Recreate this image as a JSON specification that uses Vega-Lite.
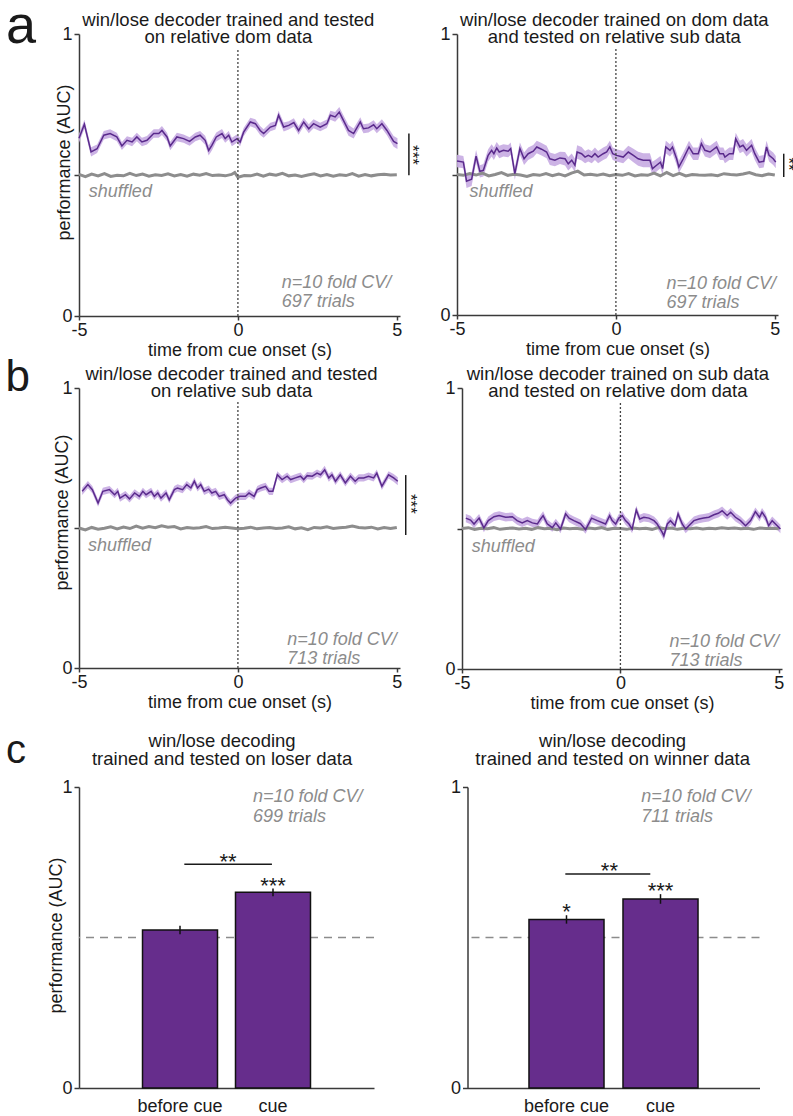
{
  "$schema": "https://vega.github.io/schema/vega-lite/v6.json",
  "padding": {"left": 5, "top": 0, "right": 0, "bottom": 0},
  "background": "white",
  "config": {
    "font": "Liberation Sans",
    "view": {"stroke": null},
    "axis": {"grid": false, "domainColor": "#3a3a3a", "domainWidth": 1.5, "tickColor": "#3a3a3a", "tickWidth": 1.5, "labelFont": "Liberation Sans", "labelFontSize": 18, "labelColor": "#1a1a1a", "titleFont": "Liberation Sans", "titleFontSize": 18, "titleFontWeight": "normal", "titleColor": "#1a1a1a"}
  },
  "datasets": {
    "aLp": [{"t":-5.0,"v":0.630,"e":0.016},{"t":-4.83,"v":0.680,"e":0.016},{"t":-4.62,"v":0.582,"e":0.016},{"t":-4.43,"v":0.593,"e":0.015},{"t":-4.22,"v":0.641,"e":0.015},{"t":-4.02,"v":0.647,"e":0.015},{"t":-3.81,"v":0.635,"e":0.015},{"t":-3.65,"v":0.603,"e":0.014},{"t":-3.49,"v":0.623,"e":0.014},{"t":-3.33,"v":0.617,"e":0.015},{"t":-3.18,"v":0.635,"e":0.015},{"t":-3.02,"v":0.617,"e":0.015},{"t":-2.86,"v":0.623,"e":0.015},{"t":-2.65,"v":0.647,"e":0.015},{"t":-2.49,"v":0.647,"e":0.015},{"t":-2.39,"v":0.658,"e":0.016},{"t":-2.23,"v":0.635,"e":0.015},{"t":-2.13,"v":0.603,"e":0.015},{"t":-1.92,"v":0.635,"e":0.015},{"t":-1.71,"v":0.629,"e":0.015},{"t":-1.52,"v":0.619,"e":0.015},{"t":-1.34,"v":0.635,"e":0.015},{"t":-1.19,"v":0.641,"e":0.015},{"t":-1.03,"v":0.623,"e":0.016},{"t":-0.92,"v":0.587,"e":0.018},{"t":-0.82,"v":0.605,"e":0.018},{"t":-0.68,"v":0.635,"e":0.016},{"t":-0.5,"v":0.647,"e":0.016},{"t":-0.4,"v":0.629,"e":0.015},{"t":-0.29,"v":0.641,"e":0.015},{"t":-0.19,"v":0.617,"e":0.015},{"t":-0.03,"v":0.629,"e":0.015},{"t":0.07,"v":0.617,"e":0.015},{"t":0.18,"v":0.652,"e":0.015},{"t":0.39,"v":0.688,"e":0.015},{"t":0.55,"v":0.682,"e":0.016},{"t":0.7,"v":0.658,"e":0.016},{"t":0.81,"v":0.647,"e":0.015},{"t":1.02,"v":0.670,"e":0.015},{"t":1.18,"v":0.676,"e":0.015},{"t":1.28,"v":0.712,"e":0.016},{"t":1.44,"v":0.670,"e":0.016},{"t":1.6,"v":0.676,"e":0.015},{"t":1.76,"v":0.686,"e":0.015},{"t":1.91,"v":0.658,"e":0.015},{"t":2.07,"v":0.688,"e":0.015},{"t":2.23,"v":0.664,"e":0.016},{"t":2.38,"v":0.682,"e":0.016},{"t":2.59,"v":0.670,"e":0.015},{"t":2.8,"v":0.682,"e":0.015},{"t":2.91,"v":0.712,"e":0.016},{"t":3.06,"v":0.706,"e":0.017},{"t":3.19,"v":0.723,"e":0.018},{"t":3.32,"v":0.694,"e":0.018},{"t":3.48,"v":0.658,"e":0.019},{"t":3.64,"v":0.647,"e":0.018},{"t":3.85,"v":0.688,"e":0.017},{"t":3.95,"v":0.664,"e":0.016},{"t":4.11,"v":0.667,"e":0.016},{"t":4.27,"v":0.678,"e":0.016},{"t":4.37,"v":0.664,"e":0.016},{"t":4.53,"v":0.682,"e":0.016},{"t":4.69,"v":0.658,"e":0.017},{"t":4.9,"v":0.619,"e":0.019},{"t":5.02,"v":0.611,"e":0.019}],
    "aLS": [{"t":-5,"v":0.502},{"t":-4.8,"v":0.494},{"t":-4.6,"v":0.503},{"t":-4.4,"v":0.497},{"t":-4.2,"v":0.505},{"t":-4,"v":0.495},{"t":-3.8,"v":0.499},{"t":-3.6,"v":0.497},{"t":-3.4,"v":0.506},{"t":-3.2,"v":0.498},{"t":-3,"v":0.503},{"t":-2.8,"v":0.496},{"t":-2.6,"v":0.501},{"t":-2.4,"v":0.498},{"t":-2.2,"v":0.504},{"t":-2,"v":0.497},{"t":-1.8,"v":0.502},{"t":-1.6,"v":0.496},{"t":-1.4,"v":0.503},{"t":-1.2,"v":0.499},{"t":-1,"v":0.505},{"t":-0.8,"v":0.498},{"t":-0.6,"v":0.5},{"t":-0.4,"v":0.497},{"t":-0.2,"v":0.502},{"t":-0.1,"v":0.509},{"t":0,"v":0.492},{"t":0.2,"v":0.498},{"t":0.4,"v":0.497},{"t":0.6,"v":0.503},{"t":0.8,"v":0.496},{"t":1,"v":0.503},{"t":1.2,"v":0.499},{"t":1.4,"v":0.506},{"t":1.6,"v":0.497},{"t":1.8,"v":0.5},{"t":2,"v":0.495},{"t":2.2,"v":0.5},{"t":2.4,"v":0.504},{"t":2.6,"v":0.497},{"t":2.8,"v":0.502},{"t":3,"v":0.496},{"t":3.2,"v":0.501},{"t":3.4,"v":0.498},{"t":3.6,"v":0.505},{"t":3.8,"v":0.496},{"t":4,"v":0.502},{"t":4.2,"v":0.497},{"t":4.4,"v":0.501},{"t":4.6,"v":0.503},{"t":4.8,"v":0.5},{"t":5,"v":0.501}],
    "aRp": [{"t":-5.0,"v":0.548,"e":0.022},{"t":-4.8,"v":0.544,"e":0.022},{"t":-4.7,"v":0.476,"e":0.024},{"t":-4.54,"v":0.483,"e":0.024},{"t":-4.4,"v":0.565,"e":0.022},{"t":-4.28,"v":0.511,"e":0.022},{"t":-4.17,"v":0.515,"e":0.022},{"t":-4.02,"v":0.568,"e":0.022},{"t":-3.91,"v":0.586,"e":0.022},{"t":-3.84,"v":0.574,"e":0.022},{"t":-3.75,"v":0.594,"e":0.022},{"t":-3.67,"v":0.58,"e":0.022},{"t":-3.54,"v":0.586,"e":0.022},{"t":-3.39,"v":0.583,"e":0.022},{"t":-3.31,"v":0.592,"e":0.022},{"t":-3.18,"v":0.503,"e":0.022},{"t":-3.02,"v":0.592,"e":0.022},{"t":-2.89,"v":0.556,"e":0.022},{"t":-2.76,"v":0.574,"e":0.022},{"t":-2.6,"v":0.583,"e":0.022},{"t":-2.49,"v":0.598,"e":0.022},{"t":-2.34,"v":0.59,"e":0.022},{"t":-2.18,"v":0.58,"e":0.022},{"t":-2.08,"v":0.556,"e":0.022},{"t":-1.92,"v":0.551,"e":0.022},{"t":-1.76,"v":0.559,"e":0.022},{"t":-1.6,"v":0.556,"e":0.024},{"t":-1.5,"v":0.538,"e":0.024},{"t":-1.39,"v":0.551,"e":0.024},{"t":-1.29,"v":0.533,"e":0.024},{"t":-1.22,"v":0.58,"e":0.024},{"t":-1.08,"v":0.574,"e":0.024},{"t":-0.97,"v":0.562,"e":0.022},{"t":-0.87,"v":0.568,"e":0.022},{"t":-0.76,"v":0.562,"e":0.022},{"t":-0.66,"v":0.574,"e":0.022},{"t":-0.56,"v":0.562,"e":0.022},{"t":-0.4,"v":0.574,"e":0.022},{"t":-0.29,"v":0.58,"e":0.022},{"t":-0.19,"v":0.598,"e":0.022},{"t":-0.1,"v":0.574,"e":0.022},{"t":0.02,"v":0.568,"e":0.022},{"t":0.23,"v":0.562,"e":0.022},{"t":0.39,"v":0.58,"e":0.022},{"t":0.55,"v":0.568,"e":0.024},{"t":0.7,"v":0.556,"e":0.025},{"t":0.86,"v":0.551,"e":0.025},{"t":1.07,"v":0.551,"e":0.025},{"t":1.15,"v":0.521,"e":0.024},{"t":1.28,"v":0.533,"e":0.022},{"t":1.4,"v":0.544,"e":0.022},{"t":1.47,"v":0.521,"e":0.022},{"t":1.57,"v":0.598,"e":0.022},{"t":1.7,"v":0.586,"e":0.022},{"t":1.78,"v":0.598,"e":0.022},{"t":1.91,"v":0.556,"e":0.022},{"t":1.98,"v":0.527,"e":0.022},{"t":2.12,"v":0.556,"e":0.022},{"t":2.3,"v":0.598,"e":0.022},{"t":2.43,"v":0.574,"e":0.022},{"t":2.59,"v":0.574,"e":0.022},{"t":2.69,"v":0.61,"e":0.022},{"t":2.8,"v":0.586,"e":0.022},{"t":2.96,"v":0.58,"e":0.022},{"t":3.17,"v":0.598,"e":0.022},{"t":3.27,"v":0.574,"e":0.022},{"t":3.38,"v":0.574,"e":0.022},{"t":3.43,"v":0.562,"e":0.022},{"t":3.57,"v":0.574,"e":0.022},{"t":3.69,"v":0.574,"e":0.022},{"t":3.77,"v":0.627,"e":0.022},{"t":3.9,"v":0.598,"e":0.022},{"t":4.0,"v":0.604,"e":0.022},{"t":4.11,"v":0.586,"e":0.022},{"t":4.27,"v":0.604,"e":0.022},{"t":4.37,"v":0.574,"e":0.022},{"t":4.51,"v":0.544,"e":0.022},{"t":4.65,"v":0.547,"e":0.022},{"t":4.74,"v":0.598,"e":0.022},{"t":4.82,"v":0.568,"e":0.022},{"t":4.95,"v":0.556,"e":0.022},{"t":5.03,"v":0.544,"e":0.022}],
    "aRS": [{"t":-5,"v":0.5},{"t":-4.8,"v":0.497},{"t":-4.6,"v":0.503},{"t":-4.4,"v":0.498},{"t":-4.2,"v":0.505},{"t":-4,"v":0.495},{"t":-3.8,"v":0.5},{"t":-3.6,"v":0.507},{"t":-3.4,"v":0.497},{"t":-3.2,"v":0.501},{"t":-3,"v":0.498},{"t":-2.8,"v":0.493},{"t":-2.6,"v":0.5},{"t":-2.4,"v":0.497},{"t":-2.2,"v":0.503},{"t":-2,"v":0.496},{"t":-1.8,"v":0.502},{"t":-1.6,"v":0.495},{"t":-1.4,"v":0.505},{"t":-1.2,"v":0.512},{"t":-1,"v":0.498},{"t":-0.8,"v":0.501},{"t":-0.6,"v":0.497},{"t":-0.4,"v":0.502},{"t":-0.2,"v":0.496},{"t":0,"v":0.5},{"t":0.2,"v":0.497},{"t":0.4,"v":0.503},{"t":0.6,"v":0.495},{"t":0.8,"v":0.499},{"t":1,"v":0.497},{"t":1.2,"v":0.505},{"t":1.4,"v":0.495},{"t":1.6,"v":0.507},{"t":1.8,"v":0.496},{"t":2,"v":0.504},{"t":2.2,"v":0.495},{"t":2.4,"v":0.5},{"t":2.6,"v":0.498},{"t":2.8,"v":0.497},{"t":3,"v":0.499},{"t":3.2,"v":0.496},{"t":3.4,"v":0.503},{"t":3.6,"v":0.5},{"t":3.8,"v":0.498},{"t":4,"v":0.502},{"t":4.2,"v":0.507},{"t":4.4,"v":0.499},{"t":4.6,"v":0.496},{"t":4.8,"v":0.502},{"t":5,"v":0.498}],
    "bLp": [{"t":-4.9,"v":0.631,"e":0.013},{"t":-4.72,"v":0.655,"e":0.013},{"t":-4.58,"v":0.637,"e":0.013},{"t":-4.4,"v":0.589,"e":0.013},{"t":-4.25,"v":0.631,"e":0.013},{"t":-4.04,"v":0.637,"e":0.013},{"t":-3.88,"v":0.619,"e":0.013},{"t":-3.78,"v":0.631,"e":0.013},{"t":-3.71,"v":0.607,"e":0.013},{"t":-3.54,"v":0.619,"e":0.013},{"t":-3.41,"v":0.604,"e":0.013},{"t":-3.25,"v":0.625,"e":0.013},{"t":-3.1,"v":0.613,"e":0.013},{"t":-2.99,"v":0.631,"e":0.013},{"t":-2.89,"v":0.619,"e":0.013},{"t":-2.73,"v":0.631,"e":0.013},{"t":-2.63,"v":0.613,"e":0.013},{"t":-2.52,"v":0.625,"e":0.013},{"t":-2.42,"v":0.607,"e":0.013},{"t":-2.26,"v":0.625,"e":0.013},{"t":-2.16,"v":0.601,"e":0.013},{"t":-2.0,"v":0.637,"e":0.013},{"t":-1.9,"v":0.643,"e":0.013},{"t":-1.74,"v":0.637,"e":0.013},{"t":-1.61,"v":0.655,"e":0.013},{"t":-1.48,"v":0.643,"e":0.013},{"t":-1.37,"v":0.667,"e":0.013},{"t":-1.27,"v":0.643,"e":0.013},{"t":-1.17,"v":0.655,"e":0.013},{"t":-1.06,"v":0.631,"e":0.013},{"t":-0.92,"v":0.639,"e":0.013},{"t":-0.82,"v":0.625,"e":0.013},{"t":-0.7,"v":0.631,"e":0.013},{"t":-0.59,"v":0.613,"e":0.013},{"t":-0.43,"v":0.619,"e":0.013},{"t":-0.33,"v":0.601,"e":0.013},{"t":-0.23,"v":0.589,"e":0.013},{"t":-0.07,"v":0.607,"e":0.013},{"t":0.06,"v":0.613,"e":0.013},{"t":0.24,"v":0.613,"e":0.013},{"t":0.35,"v":0.625,"e":0.013},{"t":0.51,"v":0.613,"e":0.013},{"t":0.61,"v":0.637,"e":0.013},{"t":0.72,"v":0.643,"e":0.013},{"t":0.87,"v":0.649,"e":0.013},{"t":0.98,"v":0.631,"e":0.013},{"t":1.1,"v":0.631,"e":0.013},{"t":1.24,"v":0.69,"e":0.013},{"t":1.39,"v":0.673,"e":0.013},{"t":1.55,"v":0.685,"e":0.013},{"t":1.66,"v":0.673,"e":0.013},{"t":1.81,"v":0.679,"e":0.013},{"t":1.97,"v":0.685,"e":0.013},{"t":2.07,"v":0.673,"e":0.013},{"t":2.18,"v":0.687,"e":0.013},{"t":2.34,"v":0.685,"e":0.013},{"t":2.49,"v":0.696,"e":0.013},{"t":2.6,"v":0.69,"e":0.013},{"t":2.73,"v":0.708,"e":0.014},{"t":2.86,"v":0.679,"e":0.014},{"t":2.96,"v":0.69,"e":0.013},{"t":3.07,"v":0.667,"e":0.013},{"t":3.22,"v":0.69,"e":0.013},{"t":3.38,"v":0.661,"e":0.013},{"t":3.54,"v":0.685,"e":0.013},{"t":3.69,"v":0.667,"e":0.013},{"t":3.8,"v":0.679,"e":0.013},{"t":3.96,"v":0.679,"e":0.013},{"t":4.11,"v":0.685,"e":0.013},{"t":4.27,"v":0.679,"e":0.013},{"t":4.37,"v":0.696,"e":0.013},{"t":4.53,"v":0.649,"e":0.013},{"t":4.74,"v":0.69,"e":0.013},{"t":4.9,"v":0.679,"e":0.014},{"t":5.03,"v":0.667,"e":0.014}],
    "bLS": [{"t":-5,"v":0.5},{"t":-4.8,"v":0.493},{"t":-4.6,"v":0.502},{"t":-4.4,"v":0.496},{"t":-4.2,"v":0.499},{"t":-4,"v":0.504},{"t":-3.8,"v":0.497},{"t":-3.6,"v":0.503},{"t":-3.4,"v":0.498},{"t":-3.2,"v":0.507},{"t":-3,"v":0.499},{"t":-2.8,"v":0.505},{"t":-2.6,"v":0.501},{"t":-2.4,"v":0.508},{"t":-2.2,"v":0.503},{"t":-2,"v":0.505},{"t":-1.8,"v":0.497},{"t":-1.6,"v":0.502},{"t":-1.4,"v":0.499},{"t":-1.2,"v":0.501},{"t":-1,"v":0.505},{"t":-0.8,"v":0.498},{"t":-0.6,"v":0.5},{"t":-0.4,"v":0.503},{"t":-0.2,"v":0.5},{"t":0,"v":0.497},{"t":0.2,"v":0.499},{"t":0.4,"v":0.503},{"t":0.6,"v":0.497},{"t":0.8,"v":0.5},{"t":1,"v":0.502},{"t":1.2,"v":0.498},{"t":1.4,"v":0.5},{"t":1.6,"v":0.504},{"t":1.8,"v":0.497},{"t":2,"v":0.501},{"t":2.2,"v":0.494},{"t":2.4,"v":0.502},{"t":2.6,"v":0.5},{"t":2.8,"v":0.504},{"t":3,"v":0.498},{"t":3.2,"v":0.501},{"t":3.4,"v":0.503},{"t":3.6,"v":0.507},{"t":3.8,"v":0.502},{"t":4,"v":0.5},{"t":4.2,"v":0.503},{"t":4.4,"v":0.497},{"t":4.6,"v":0.502},{"t":4.8,"v":0.498},{"t":5,"v":0.502}],
    "bRp": [{"t":-4.88,"v":0.537,"e":0.015},{"t":-4.73,"v":0.53,"e":0.015},{"t":-4.62,"v":0.516,"e":0.015},{"t":-4.46,"v":0.537,"e":0.015},{"t":-4.31,"v":0.502,"e":0.015},{"t":-4.17,"v":0.528,"e":0.015},{"t":-3.99,"v":0.542,"e":0.015},{"t":-3.83,"v":0.546,"e":0.015},{"t":-3.62,"v":0.54,"e":0.015},{"t":-3.41,"v":0.542,"e":0.015},{"t":-3.26,"v":0.528,"e":0.015},{"t":-3.1,"v":0.52,"e":0.015},{"t":-2.94,"v":0.528,"e":0.015},{"t":-2.78,"v":0.52,"e":0.015},{"t":-2.62,"v":0.516,"e":0.015},{"t":-2.52,"v":0.534,"e":0.015},{"t":-2.44,"v":0.546,"e":0.015},{"t":-2.31,"v":0.517,"e":0.015},{"t":-2.15,"v":0.503,"e":0.015},{"t":-2.04,"v":0.52,"e":0.015},{"t":-1.89,"v":0.498,"e":0.015},{"t":-1.73,"v":0.552,"e":0.015},{"t":-1.62,"v":0.537,"e":0.015},{"t":-1.47,"v":0.528,"e":0.015},{"t":-1.26,"v":0.517,"e":0.015},{"t":-1.1,"v":0.496,"e":0.015},{"t":-0.91,"v":0.537,"e":0.015},{"t":-0.73,"v":0.528,"e":0.015},{"t":-0.47,"v":0.516,"e":0.015},{"t":-0.34,"v":0.546,"e":0.015},{"t":-0.26,"v":0.528,"e":0.015},{"t":-0.15,"v":0.516,"e":0.015},{"t":-0.05,"v":0.537,"e":0.015},{"t":0.06,"v":0.546,"e":0.015},{"t":0.16,"v":0.528,"e":0.015},{"t":0.27,"v":0.516,"e":0.015},{"t":0.37,"v":0.498,"e":0.015},{"t":0.5,"v":0.566,"e":0.015},{"t":0.61,"v":0.534,"e":0.015},{"t":0.74,"v":0.54,"e":0.015},{"t":0.9,"v":0.537,"e":0.015},{"t":1.06,"v":0.528,"e":0.015},{"t":1.16,"v":0.516,"e":0.015},{"t":1.32,"v":0.486,"e":0.016},{"t":1.37,"v":0.474,"e":0.016},{"t":1.48,"v":0.516,"e":0.015},{"t":1.58,"v":0.528,"e":0.015},{"t":1.72,"v":0.51,"e":0.015},{"t":1.82,"v":0.552,"e":0.015},{"t":1.95,"v":0.516,"e":0.015},{"t":2.06,"v":0.498,"e":0.015},{"t":2.16,"v":0.51,"e":0.015},{"t":2.32,"v":0.528,"e":0.015},{"t":2.48,"v":0.534,"e":0.015},{"t":2.63,"v":0.537,"e":0.015},{"t":2.79,"v":0.54,"e":0.015},{"t":2.95,"v":0.549,"e":0.015},{"t":3.09,"v":0.554,"e":0.015},{"t":3.21,"v":0.563,"e":0.015},{"t":3.37,"v":0.546,"e":0.015},{"t":3.48,"v":0.558,"e":0.015},{"t":3.63,"v":0.54,"e":0.015},{"t":3.79,"v":0.528,"e":0.015},{"t":3.95,"v":0.51,"e":0.015},{"t":4.11,"v":0.528,"e":0.015},{"t":4.26,"v":0.56,"e":0.015},{"t":4.39,"v":0.54,"e":0.015},{"t":4.47,"v":0.558,"e":0.015},{"t":4.58,"v":0.54,"e":0.015},{"t":4.68,"v":0.51,"e":0.015},{"t":4.79,"v":0.528,"e":0.015},{"t":4.95,"v":0.51,"e":0.015},{"t":5.05,"v":0.498,"e":0.015}],
    "bRS": [{"t":-5,"v":0.5},{"t":-4.8,"v":0.503},{"t":-4.6,"v":0.497},{"t":-4.4,"v":0.501},{"t":-4.2,"v":0.499},{"t":-4,"v":0.503},{"t":-3.8,"v":0.497},{"t":-3.6,"v":0.5},{"t":-3.4,"v":0.502},{"t":-3.2,"v":0.498},{"t":-3,"v":0.501},{"t":-2.8,"v":0.497},{"t":-2.6,"v":0.503},{"t":-2.4,"v":0.499},{"t":-2.2,"v":0.501},{"t":-2,"v":0.496},{"t":-1.8,"v":0.502},{"t":-1.6,"v":0.499},{"t":-1.4,"v":0.501},{"t":-1.2,"v":0.497},{"t":-1,"v":0.502},{"t":-0.8,"v":0.499},{"t":-0.6,"v":0.503},{"t":-0.4,"v":0.497},{"t":-0.2,"v":0.501},{"t":0,"v":0.5},{"t":0.2,"v":0.497},{"t":0.4,"v":0.502},{"t":0.6,"v":0.499},{"t":0.8,"v":0.501},{"t":1,"v":0.497},{"t":1.2,"v":0.503},{"t":1.4,"v":0.499},{"t":1.6,"v":0.502},{"t":1.8,"v":0.497},{"t":2,"v":0.501},{"t":2.2,"v":0.499},{"t":2.4,"v":0.502},{"t":2.6,"v":0.498},{"t":2.8,"v":0.501},{"t":3,"v":0.499},{"t":3.2,"v":0.503},{"t":3.4,"v":0.5},{"t":3.6,"v":0.502},{"t":3.8,"v":0.499},{"t":4,"v":0.501},{"t":4.2,"v":0.497},{"t":4.4,"v":0.502},{"t":4.6,"v":0.5},{"t":4.8,"v":0.501},{"t":5,"v":0.499}],
    "cL": [{"cond":"before cue","v":0.525,"e":0.014},{"cond":"cue","v":0.65,"e":0.013}],
    "cR": [{"cond":"before cue","v":0.56,"e":0.014},{"cond":"cue","v":0.628,"e":0.016}]
  },
  "spacing": 18,
  "vconcat": [
    {
      "spacing": -4,
      "vconcat": [
        {
          "title": {"text": "a", "orient": "left", "anchor": "end", "angle": 0, "align": "right", "baseline": "top", "fontSize": 54, "fontWeight": "normal", "font": "Liberation Sans", "color": "#1a1a1a", "offset": -10.5, "dy": -11},
          "spacing": 18,
          "hconcat": [
            {
              "width": 321, "height": 282,
              "layer": [
                {"data": {"name": "aLp"}, "mark": {"type": "errorband", "color": "#c6abe2", "opacity": 0.9},
                 "encoding": {
                   "x": {"field": "t", "type": "quantitative", "scale": {"domain": [-5, 5.1], "nice": false, "zero": false}, "axis": {"values": [-5, 0, 5], "labelExpr": "'' + datum.value", "title": "time from cue onset (s)", "tickSize": 4, "labelPadding": 1, "titlePadding": 2, "labelFlush": false}},
                   "y": {"field": "v", "type": "quantitative", "scale": {"domain": [0, 1], "nice": false, "zero": false}, "axis": {"values": [0, 0.5, 1], "labelExpr": "datum.value == 0.5 ? '' : '' + datum.value", "title": "performance (AUC)", "titleX": -14.5, "titleY": 128, "titleBaseline": "middle", "titleAngle": 270, "tickSize": 5, "labelPadding": 2}},
                   "yError": {"field": "e"}}},
                {"data": {"name": "aLS"}, "mark": {"type": "line", "color": "#8d8d8d", "strokeWidth": 3}, "encoding": {"x": {"field": "t", "type": "quantitative"}, "y": {"field": "v", "type": "quantitative"}}},
                {"data": {"name": "aLp"}, "mark": {"type": "line", "color": "#5a2a8c", "strokeWidth": 1.5}, "encoding": {"x": {"field": "t", "type": "quantitative"}, "y": {"field": "v", "type": "quantitative"}}},
                {"data": {"values": [{}]}, "mark": {"type": "rule", "color": "#444444", "strokeDash": [2, 2], "strokeWidth": 1.3}, "encoding": {"x": {"datum": 0}, "y": {"datum": 0}, "y2": {"datum": 0.95}}},
                {"data": {"values": [{}]}, "mark": {"type": "text", "fontSize": 18.5, "lineHeight": 17, "align": "center", "baseline": "alphabetic", "color": "#1a1a1a"}, "encoding": {"x": {"datum": -0.3}, "y": {"datum": 1.028}, "text": {"value": ["win/lose decoder trained and tested", "on relative dom data"]}}},
                {"data": {"values": [{}]}, "mark": {"type": "text", "fontSize": 18, "fontStyle": "italic", "align": "left", "baseline": "alphabetic", "color": "#8c8c8c"}, "encoding": {"x": {"datum": -4.69}, "y": {"datum": 0.422}, "text": {"value": "shuffled"}}},
                {"data": {"values": [{}]}, "mark": {"type": "text", "fontSize": 18, "fontStyle": "italic", "lineHeight": 19, "align": "left", "baseline": "alphabetic", "color": "#8c8c8c"}, "encoding": {"x": {"datum": 1.38}, "y": {"datum": 0.099}, "text": {"value": ["n=10 fold CV/", "697 trials"]}}},
                {"data": {"values": [{}]}, "mark": {"type": "rule", "color": "#1a1a1a", "strokeWidth": 1.5}, "encoding": {"x": {"datum": 5.38}, "y": {"datum": 0.499}, "y2": {"datum": 0.647}}},
                {"data": {"values": [{}]}, "mark": {"type": "text", "fontSize": 17, "angle": 90, "align": "center", "baseline": "alphabetic", "color": "#1a1a1a"}, "encoding": {"x": {"datum": 5.31}, "y": {"datum": 0.571}, "text": {"value": "***"}}}
              ]
            },
            {
              "width": 321, "height": 281,
              "layer": [
                {"data": {"name": "aRp"}, "mark": {"type": "errorband", "color": "#c6abe2", "opacity": 0.9},
                 "encoding": {
                   "x": {"field": "t", "type": "quantitative", "scale": {"domain": [-5, 5.1], "nice": false, "zero": false}, "axis": {"values": [-5, 0, 5], "labelExpr": "'' + datum.value", "title": "time from cue onset (s)", "tickSize": 4, "labelPadding": 1, "titlePadding": 2, "labelFlush": false}},
                   "y": {"field": "v", "type": "quantitative", "scale": {"domain": [0, 1], "nice": false, "zero": false}, "axis": {"values": [0, 0.5, 1], "labelExpr": "datum.value == 0.5 ? '' : '' + datum.value", "title": null, "tickSize": 5, "labelPadding": 2}},
                   "yError": {"field": "e"}}},
                {"data": {"name": "aRS"}, "mark": {"type": "line", "color": "#8d8d8d", "strokeWidth": 3}, "encoding": {"x": {"field": "t", "type": "quantitative"}, "y": {"field": "v", "type": "quantitative"}}},
                {"data": {"name": "aRp"}, "mark": {"type": "line", "color": "#5a2a8c", "strokeWidth": 1.5}, "encoding": {"x": {"field": "t", "type": "quantitative"}, "y": {"field": "v", "type": "quantitative"}}},
                {"data": {"values": [{}]}, "mark": {"type": "rule", "color": "#444444", "strokeDash": [2, 2], "strokeWidth": 1.3}, "encoding": {"x": {"datum": 0}, "y": {"datum": 0}, "y2": {"datum": 0.95}}},
                {"data": {"values": [{}]}, "mark": {"type": "text", "fontSize": 18.5, "lineHeight": 17, "align": "center", "baseline": "alphabetic", "color": "#1a1a1a"}, "encoding": {"x": {"datum": -0.05}, "y": {"datum": 1.028}, "text": {"value": ["win/lose decoder trained on dom data", "and tested on relative sub data"]}}},
                {"data": {"values": [{}]}, "mark": {"type": "text", "fontSize": 18, "fontStyle": "italic", "align": "left", "baseline": "alphabetic", "color": "#8c8c8c"}, "encoding": {"x": {"datum": -4.61}, "y": {"datum": 0.42}, "text": {"value": "shuffled"}}},
                {"data": {"values": [{}]}, "mark": {"type": "text", "fontSize": 18, "fontStyle": "italic", "lineHeight": 19, "align": "left", "baseline": "alphabetic", "color": "#8c8c8c"}, "encoding": {"x": {"datum": 1.59}, "y": {"datum": 0.094}, "text": {"value": ["n=10 fold CV/", "697 trials"]}}},
                {"data": {"values": [{}]}, "mark": {"type": "rule", "color": "#1a1a1a", "strokeWidth": 1.5}, "encoding": {"x": {"datum": 5.28}, "y": {"datum": 0.491}, "y2": {"datum": 0.574}}},
                {"data": {"values": [{}]}, "mark": {"type": "text", "fontSize": 17, "angle": 90, "align": "center", "baseline": "alphabetic", "color": "#1a1a1a"}, "encoding": {"x": {"datum": 5.25}, "y": {"datum": 0.537}, "text": {"value": "**"}}}
              ]
            }
          ]
        },
        {
          "title": {"text": "b", "orient": "left", "anchor": "end", "angle": 0, "align": "right", "baseline": "top", "fontSize": 44, "fontWeight": "normal", "font": "Liberation Sans", "color": "#1a1a1a", "offset": -1.5, "dy": -9.2},
          "spacing": 25,
          "hconcat": [
            {
              "width": 321, "height": 280,
              "layer": [
                {"data": {"name": "bLp"}, "mark": {"type": "errorband", "color": "#c6abe2", "opacity": 0.9},
                 "encoding": {
                   "x": {"field": "t", "type": "quantitative", "scale": {"domain": [-5, 5.1], "nice": false, "zero": false}, "axis": {"values": [-5, 0, 5], "labelExpr": "'' + datum.value", "title": "time from cue onset (s)", "tickSize": 4, "labelPadding": 1, "titlePadding": 2, "labelFlush": false}},
                   "y": {"field": "v", "type": "quantitative", "scale": {"domain": [0, 1], "nice": false, "zero": false}, "axis": {"values": [0, 0.5, 1], "labelExpr": "datum.value == 0.5 ? '' : '' + datum.value", "title": "performance (AUC)", "titleX": -17, "titleY": 124, "titleBaseline": "middle", "titleAngle": 270, "tickSize": 5, "labelPadding": 2}},
                   "yError": {"field": "e"}}},
                {"data": {"name": "bLS"}, "mark": {"type": "line", "color": "#8d8d8d", "strokeWidth": 3}, "encoding": {"x": {"field": "t", "type": "quantitative"}, "y": {"field": "v", "type": "quantitative"}}},
                {"data": {"name": "bLp"}, "mark": {"type": "line", "color": "#5a2a8c", "strokeWidth": 1.5}, "encoding": {"x": {"field": "t", "type": "quantitative"}, "y": {"field": "v", "type": "quantitative"}}},
                {"data": {"values": [{}]}, "mark": {"type": "rule", "color": "#444444", "strokeDash": [2, 2], "strokeWidth": 1.3}, "encoding": {"x": {"datum": 0}, "y": {"datum": 0}, "y2": {"datum": 0.95}}},
                {"data": {"values": [{}]}, "mark": {"type": "text", "fontSize": 18.5, "lineHeight": 17, "align": "center", "baseline": "alphabetic", "color": "#1a1a1a"}, "encoding": {"x": {"datum": -0.2}, "y": {"datum": 1.028}, "text": {"value": ["win/lose decoder trained and tested", "on relative sub data"]}}},
                {"data": {"values": [{}]}, "mark": {"type": "text", "fontSize": 18, "fontStyle": "italic", "align": "left", "baseline": "alphabetic", "color": "#8c8c8c"}, "encoding": {"x": {"datum": -4.72}, "y": {"datum": 0.417}, "text": {"value": "shuffled"}}},
                {"data": {"values": [{}]}, "mark": {"type": "text", "fontSize": 18, "fontStyle": "italic", "lineHeight": 19, "align": "left", "baseline": "alphabetic", "color": "#8c8c8c"}, "encoding": {"x": {"datum": 1.55}, "y": {"datum": 0.083}, "text": {"value": ["n=10 fold CV/", "713 trials"]}}},
                {"data": {"values": [{}]}, "mark": {"type": "rule", "color": "#1a1a1a", "strokeWidth": 1.5}, "encoding": {"x": {"datum": 5.28}, "y": {"datum": 0.475}, "y2": {"datum": 0.689}}},
                {"data": {"values": [{}]}, "mark": {"type": "text", "fontSize": 17, "angle": 90, "align": "center", "baseline": "alphabetic", "color": "#1a1a1a"}, "encoding": {"x": {"datum": 5.25}, "y": {"datum": 0.586}, "text": {"value": "***"}}}
              ]
            },
            {
              "width": 320, "height": 281,
              "layer": [
                {"data": {"name": "bRp"}, "mark": {"type": "errorband", "color": "#c6abe2", "opacity": 0.9},
                 "encoding": {
                   "x": {"field": "t", "type": "quantitative", "scale": {"domain": [-5, 5.1], "nice": false, "zero": false}, "axis": {"values": [-5, 0, 5], "labelExpr": "'' + datum.value", "title": "time from cue onset (s)", "tickSize": 4, "labelPadding": 1, "titlePadding": 2, "labelFlush": false}},
                   "y": {"field": "v", "type": "quantitative", "scale": {"domain": [0, 1], "nice": false, "zero": false}, "axis": {"values": [0, 0.5, 1], "labelExpr": "datum.value == 0.5 ? '' : '' + datum.value", "title": null, "tickSize": 5, "labelPadding": 2}},
                   "yError": {"field": "e"}}},
                {"data": {"name": "bRS"}, "mark": {"type": "line", "color": "#8d8d8d", "strokeWidth": 3}, "encoding": {"x": {"field": "t", "type": "quantitative"}, "y": {"field": "v", "type": "quantitative"}}},
                {"data": {"name": "bRp"}, "mark": {"type": "line", "color": "#5a2a8c", "strokeWidth": 1.5}, "encoding": {"x": {"field": "t", "type": "quantitative"}, "y": {"field": "v", "type": "quantitative"}}},
                {"data": {"values": [{}]}, "mark": {"type": "rule", "color": "#444444", "strokeDash": [2, 2], "strokeWidth": 1.3}, "encoding": {"x": {"datum": 0}, "y": {"datum": 0}, "y2": {"datum": 0.95}}},
                {"data": {"values": [{}]}, "mark": {"type": "text", "fontSize": 18.5, "lineHeight": 17, "align": "center", "baseline": "alphabetic", "color": "#1a1a1a"}, "encoding": {"x": {"datum": -0.08}, "y": {"datum": 1.028}, "text": {"value": ["win/lose decoder trained on sub data", "and tested on relative dom data"]}}},
                {"data": {"values": [{}]}, "mark": {"type": "text", "fontSize": 18, "fontStyle": "italic", "align": "left", "baseline": "alphabetic", "color": "#8c8c8c"}, "encoding": {"x": {"datum": -4.69}, "y": {"datum": 0.415}, "text": {"value": "shuffled"}}},
                {"data": {"values": [{}]}, "mark": {"type": "text", "fontSize": 18, "fontStyle": "italic", "lineHeight": 19, "align": "left", "baseline": "alphabetic", "color": "#8c8c8c"}, "encoding": {"x": {"datum": 1.55}, "y": {"datum": 0.077}, "text": {"value": ["n=10 fold CV/", "713 trials"]}}}
              ]
            }
          ]
        }
      ]
    },
    {
      "vconcat": [
        {
          "spacing": 74.5,
          "hconcat": [
            {
              "width": 295, "height": 301,
              "resolve": {"scale": {"x": "independent"}},
              "layer": [
                {"layer": [
                  {"data": {"values": [{}]}, "mark": {"type": "rule", "color": "#8c8c8c", "strokeDash": [8, 6], "strokeWidth": 1.5}, "encoding": {"y": {"datum": 0.5}}},
                  {"data": {"name": "cL"}, "mark": {"type": "bar", "color": "#662d8c", "stroke": "#111111", "strokeWidth": 1.5},
                   "encoding": {
                     "x": {"field": "cond", "type": "nominal", "scale": {"paddingInner": 0.1935, "paddingOuter": 0.683}, "axis": {"title": null, "labelAngle": 0, "ticks": false, "tickSize": 0, "labelPadding": 9.5}},
                     "y": {"field": "v", "type": "quantitative", "scale": {"domain": [0, 1], "nice": false, "zero": false}, "axis": {"values": [0, 1], "labelExpr": "'' + datum.value", "title": "performance (AUC)", "titleX": -22.4, "titleY": 148, "titleBaseline": "middle", "titleAngle": 270, "tickSize": 5, "labelPadding": 2}}}},
                  {"data": {"name": "cL"}, "mark": {"type": "errorbar", "color": "#111111", "thickness": 1.5}, "encoding": {"x": {"field": "cond", "type": "nominal"}, "y": {"field": "v", "type": "quantitative", "axis": {"values": [0, 1], "labelExpr": "'' + datum.value", "title": "performance (AUC)", "titleX": -22.4, "titleY": 148, "titleBaseline": "middle", "titleAngle": 270, "tickSize": 5, "labelPadding": 2}}, "yError": {"field": "e"}}},
                  {"data": {"values": [{}]}, "mark": {"type": "text", "fontSize": 22, "align": "center", "baseline": "alphabetic", "color": "#1a1a1a"}, "encoding": {"x": {"datum": "cue", "type": "nominal", "bandPosition": 0.5}, "y": {"datum": 0.6485}, "text": {"value": "***"}}}
                ]},
                {"layer": [
                  {"data": {"values": [{}]}, "mark": {"type": "text", "fontSize": 18.5, "lineHeight": 18.3, "align": "center", "baseline": "alphabetic", "color": "#1a1a1a"}, "encoding": {"x": {"datum": 0.485, "scale": {"domain": [0, 1], "nice": false, "zero": false}, "axis": null}, "y": {"datum": 1.133}, "text": {"value": ["win/lose decoding", "trained and tested on loser data"]}}},
                  {"data": {"values": [{}]}, "mark": {"type": "text", "fontSize": 40, "align": "left", "baseline": "alphabetic", "color": "#1a1a1a"}, "encoding": {"x": {"datum": -0.2475}, "y": {"datum": 1.08}, "text": {"value": "c"}}},
                  {"data": {"values": [{}]}, "mark": {"type": "text", "fontSize": 18, "fontStyle": "italic", "lineHeight": 20, "align": "left", "baseline": "alphabetic", "color": "#8c8c8c"}, "encoding": {"x": {"datum": 0.59}, "y": {"datum": 0.951}, "text": {"value": ["n=10 fold CV/", "699 trials"]}}},
                  {"data": {"values": [{}]}, "mark": {"type": "rule", "color": "#1a1a1a", "strokeWidth": 1.5}, "encoding": {"x": {"datum": 0.357}, "x2": {"datum": 0.654}, "y": {"datum": 0.743}}},
                  {"data": {"values": [{}]}, "mark": {"type": "text", "fontSize": 22, "align": "center", "baseline": "alphabetic", "color": "#1a1a1a"}, "encoding": {"x": {"datum": 0.505}, "y": {"datum": 0.728}, "text": {"value": "**"}}}
                ]}
              ]
            },
            {
              "width": 292, "height": 301,
              "resolve": {"scale": {"x": "independent"}},
              "layer": [
                {"layer": [
                  {"data": {"values": [{}]}, "mark": {"type": "rule", "color": "#8c8c8c", "strokeDash": [8, 6], "strokeWidth": 1.5}, "encoding": {"y": {"datum": 0.5}}},
                  {"data": {"name": "cR"}, "mark": {"type": "bar", "color": "#662d8c", "stroke": "#111111", "strokeWidth": 1.5},
                   "encoding": {
                     "x": {"field": "cond", "type": "nominal", "scale": {"paddingInner": 0.202, "paddingOuter": 0.654}, "axis": {"title": null, "labelAngle": 0, "ticks": false, "tickSize": 0, "labelPadding": 9.5}},
                     "y": {"field": "v", "type": "quantitative", "scale": {"domain": [0, 1], "nice": false, "zero": false}, "axis": {"values": [0, 1], "labelExpr": "'' + datum.value", "title": null, "tickSize": 5, "labelPadding": 2}}}},
                  {"data": {"name": "cR"}, "mark": {"type": "errorbar", "color": "#111111", "thickness": 1.5}, "encoding": {"x": {"field": "cond", "type": "nominal"}, "y": {"field": "v", "type": "quantitative", "axis": {"values": [0, 1], "labelExpr": "'' + datum.value", "title": null, "tickSize": 5, "labelPadding": 2}}, "yError": {"field": "e"}}},
                  {"data": {"values": [{}]}, "mark": {"type": "text", "fontSize": 22, "align": "center", "baseline": "alphabetic", "color": "#1a1a1a"}, "encoding": {"x": {"datum": "cue", "type": "nominal", "bandPosition": 0.5}, "y": {"datum": 0.632}, "text": {"value": "***"}}},
                  {"data": {"values": [{}]}, "mark": {"type": "text", "fontSize": 22, "align": "center", "baseline": "alphabetic", "color": "#1a1a1a"}, "encoding": {"x": {"datum": "before cue", "type": "nominal", "bandPosition": 0.5}, "y": {"datum": 0.562}, "text": {"value": "*"}}}
                ]},
                {"layer": [
                  {"data": {"values": [{}]}, "mark": {"type": "text", "fontSize": 18.5, "lineHeight": 18.3, "align": "center", "baseline": "alphabetic", "color": "#1a1a1a"}, "encoding": {"x": {"datum": 0.497, "scale": {"domain": [0, 1], "nice": false, "zero": false}, "axis": null}, "y": {"datum": 1.133}, "text": {"value": ["win/lose decoding", "trained and tested on winner data"]}}},
                  {"data": {"values": [{}]}, "mark": {"type": "text", "fontSize": 18, "fontStyle": "italic", "lineHeight": 20, "align": "left", "baseline": "alphabetic", "color": "#8c8c8c"}, "encoding": {"x": {"datum": 0.595}, "y": {"datum": 0.951}, "text": {"value": ["n=10 fold CV/", "711 trials"]}}},
                  {"data": {"values": [{}]}, "mark": {"type": "rule", "color": "#1a1a1a", "strokeWidth": 1.5}, "encoding": {"x": {"datum": 0.335}, "x2": {"datum": 0.626}, "y": {"datum": 0.711}}},
                  {"data": {"values": [{}]}, "mark": {"type": "text", "fontSize": 22, "align": "center", "baseline": "alphabetic", "color": "#1a1a1a"}, "encoding": {"x": {"datum": 0.486}, "y": {"datum": 0.698}, "text": {"value": "**"}}}
                ]}
              ]
            }
          ]
        }
      ]
    }
  ]
}
